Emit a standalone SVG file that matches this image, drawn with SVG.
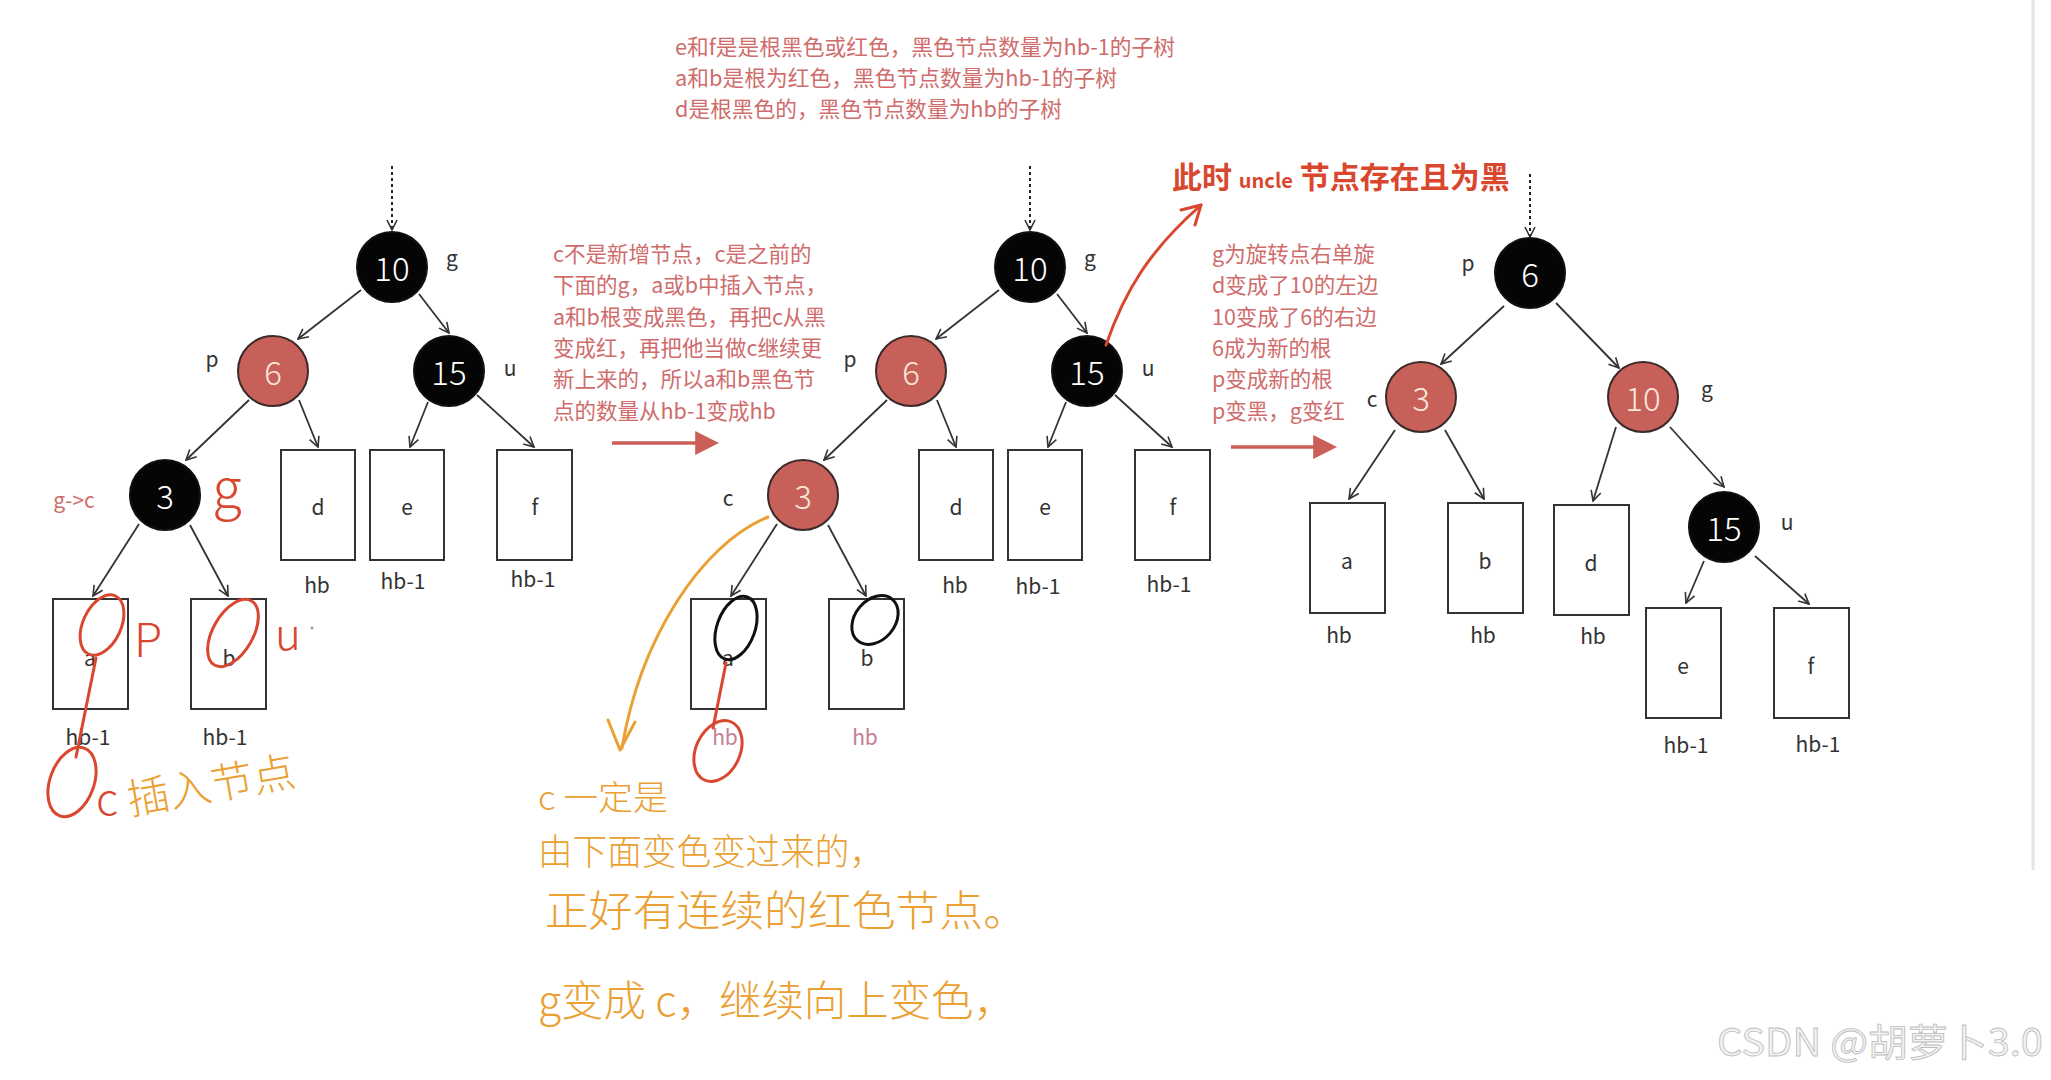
<svg xmlns="http://www.w3.org/2000/svg" width="2051" height="1080" viewBox="0 0 2051 1080">
<defs>
<style>
text{font-family:"Noto Sans CJK SC","Noto Sans",sans-serif;}
.bn{fill:#050505;stroke:#111;stroke-width:2}
.rn{fill:#c8605a;stroke:#3a2a2a;stroke-width:2}
.bt{fill:#fff;font-size:33px;font-weight:300;text-anchor:middle;dominant-baseline:central}
.rt{fill:#f8e6d8;font-size:33px;font-weight:300;text-anchor:middle;dominant-baseline:central}
.lb{fill:#333;font-size:21px;text-anchor:middle;dominant-baseline:central}
.box{fill:#fff;stroke:#333;stroke-width:2}
.e{stroke:#333;stroke-width:1.8;fill:none;marker-end:url(#ah)}
.d{stroke:#222;stroke-width:2;fill:none;stroke-dasharray:3 3;marker-end:url(#ah)}
.pk{fill:#cf6c6c;font-size:21.5px}
.ra{stroke:#cc5e58;stroke-width:3.5;fill:none;marker-end:url(#rah)}
.hr{stroke:#d9472f;stroke-width:3;fill:none;stroke-linecap:round;stroke-linejoin:round}
.hk{stroke:#111;stroke-width:3;fill:none;stroke-linecap:round}
.ho{stroke:#eaa032;stroke-width:3;fill:none;stroke-linecap:round;stroke-linejoin:round}
.ot{fill:#eaa032}
.rtx{fill:#d9472f}
.thin{font-weight:300}
</style>
<marker id="ah" viewBox="0 0 12 12" refX="11" refY="6" markerWidth="12" markerHeight="12" markerUnits="userSpaceOnUse" orient="auto"><path d="M1,1 L11,6 L1,11" fill="none" stroke="#333" stroke-width="1.6"/></marker>
<marker id="rah" viewBox="0 0 10 10" refX="2" refY="5" markerWidth="24" markerHeight="24" markerUnits="userSpaceOnUse" orient="auto"><path d="M0,0 L10,5 L0,10 z" fill="#cc5e58"/></marker>
</defs>
<rect width="2051" height="1080" fill="#fff"/>
<line x1="2033" y1="0" x2="2033" y2="870" stroke="#e4e4e4" stroke-width="3"/>

<g id="top-note">
<text class="pk" x="675" y="55" font-size="22" textLength="500" lengthAdjust="spacingAndGlyphs">e和f是是根黑色或红色，黑色节点数量为hb-1的子树</text>
<text class="pk" x="675" y="86" font-size="22" textLength="442" lengthAdjust="spacingAndGlyphs">a和b是根为红色，黑色节点数量为hb-1的子树</text>
<text class="pk" x="675" y="117" font-size="22" textLength="387" lengthAdjust="spacingAndGlyphs">d是根黑色的，黑色节点数量为hb的子树</text>
</g>

<g id="connectors">
<line class="d" x1="392" y1="166" x2="392" y2="230"/>
<line class="e" x1="361" y1="290" x2="298" y2="339"/>
<line class="e" x1="419" y1="294" x2="449" y2="333"/>
<line class="e" x1="249" y1="400" x2="186" y2="460"/>
<line class="e" x1="299" y1="400" x2="318" y2="447"/>
<line class="e" x1="428" y1="402" x2="410" y2="447"/>
<line class="e" x1="477" y1="395" x2="534" y2="447"/>
<line class="e" x1="139" y1="524" x2="93" y2="596"/>
<line class="e" x1="190" y1="525" x2="228" y2="596"/>

<line class="d" x1="1030" y1="166" x2="1030" y2="230"/>
<line class="e" x1="999" y1="290" x2="936" y2="339"/>
<line class="e" x1="1057" y1="294" x2="1087" y2="333"/>
<line class="e" x1="887" y1="400" x2="824" y2="460"/>
<line class="e" x1="937" y1="400" x2="956" y2="447"/>
<line class="e" x1="1066" y1="402" x2="1048" y2="447"/>
<line class="e" x1="1115" y1="395" x2="1172" y2="447"/>
<line class="e" x1="777" y1="524" x2="731" y2="596"/>
<line class="e" x1="828" y1="525" x2="866" y2="596"/>

<line class="d" x1="1530" y1="174" x2="1530" y2="237"/>
<line class="e" x1="1504" y1="306" x2="1441" y2="364"/>
<line class="e" x1="1556" y1="303" x2="1619" y2="368"/>
<line class="e" x1="1395" y1="430" x2="1349" y2="499"/>
<line class="e" x1="1445" y1="430" x2="1484" y2="499"/>
<line class="e" x1="1616" y1="427" x2="1593" y2="501"/>
<line class="e" x1="1670" y1="427" x2="1724" y2="487"/>
<line class="e" x1="1704" y1="561" x2="1686" y2="603"/>
<line class="e" x1="1755" y1="556" x2="1809" y2="604"/>

<line class="ra" x1="612" y1="443" x2="700" y2="443"/>
<line class="ra" x1="1231" y1="447" x2="1318" y2="447"/>
</g>

<!-- Tree 1 -->
<g id="t1-n10"><circle class="bn" cx="392" cy="267" r="35"/><text class="bt" x="392" y="267">10</text><text class="lb" x="452" y="257">g</text></g>
<g id="t1-n6"><circle class="rn" cx="273" cy="371" r="35"/><text class="rt" x="273" y="371">6</text><text class="lb" x="212" y="358">p</text></g>
<g id="t1-n15"><circle class="bn" cx="449" cy="371" r="35"/><text class="bt" x="449" y="371">15</text><text class="lb" x="510" y="367">u</text></g>
<g id="t1-n3"><circle class="bn" cx="165" cy="495" r="35"/><text class="bt" x="165" y="495">3</text><text class="lb" x="74" y="499" style="fill:#cf6c6c" font-size="19">g-&gt;c</text></g>
<g id="t1-d"><rect class="box" x="281" y="450" width="74" height="110"/><text class="lb" x="318" y="506">d</text><text class="lb" x="317" y="584">hb</text></g>
<g id="t1-e"><rect class="box" x="370" y="450" width="74" height="110"/><text class="lb" x="407" y="506">e</text><text class="lb" x="403" y="580">hb-1</text></g>
<g id="t1-f"><rect class="box" x="497" y="450" width="75" height="110"/><text class="lb" x="535" y="506">f</text><text class="lb" x="533" y="578">hb-1</text></g>
<g id="t1-a"><rect class="box" x="53" y="599" width="75" height="110"/><text class="lb" x="90" y="657">a</text><text class="lb" x="88" y="736">hb-1</text></g>
<g id="t1-b"><rect class="box" x="191" y="599" width="75" height="110"/><text class="lb" x="229" y="657">b</text><text class="lb" x="225" y="736">hb-1</text></g>

<g id="note-1">
<text class="pk" x="553" y="262">c不是新增节点，c是之前的</text>
<text class="pk" x="553" y="293">下面的g，a或b中插入节点，</text>
<text class="pk" x="553" y="325">a和b根变成黑色，再把c从黑</text>
<text class="pk" x="553" y="356">变成红，再把他当做c继续更</text>
<text class="pk" x="553" y="387">新上来的，所以a和b黑色节</text>
<text class="pk" x="553" y="419">点的数量从hb-1变成hb</text>
</g>

<!-- Tree 2 -->
<g id="t2-n10"><circle class="bn" cx="1030" cy="267" r="35"/><text class="bt" x="1030" y="267">10</text><text class="lb" x="1090" y="257">g</text></g>
<g id="t2-n6"><circle class="rn" cx="911" cy="371" r="35"/><text class="rt" x="911" y="371">6</text><text class="lb" x="850" y="358">p</text></g>
<g id="t2-n15"><circle class="bn" cx="1087" cy="371" r="35"/><text class="bt" x="1087" y="371">15</text><text class="lb" x="1148" y="367">u</text></g>
<g id="t2-n3"><circle class="rn" cx="803" cy="495" r="35"/><text class="rt" x="803" y="495">3</text><text class="lb" x="728" y="497">c</text></g>
<g id="t2-d"><rect class="box" x="919" y="450" width="74" height="110"/><text class="lb" x="956" y="506">d</text><text class="lb" x="955" y="584">hb</text></g>
<g id="t2-e"><rect class="box" x="1008" y="450" width="74" height="110"/><text class="lb" x="1045" y="506">e</text><text class="lb" x="1038" y="585">hb-1</text></g>
<g id="t2-f"><rect class="box" x="1135" y="450" width="75" height="110"/><text class="lb" x="1173" y="506">f</text><text class="lb" x="1169" y="583">hb-1</text></g>
<g id="t2-a"><rect class="box" x="691" y="599" width="75" height="110"/><text class="lb" x="728" y="657">a</text><text class="lb" x="725" y="736" style="fill:#c4808f">hb</text></g>
<g id="t2-b"><rect class="box" x="829" y="599" width="75" height="110"/><text class="lb" x="867" y="657">b</text><text class="lb" x="865" y="736" style="fill:#c4808f">hb</text></g>

<g id="note-2">
<text class="pk" x="1212" y="262">g为旋转点右单旋</text>
<text class="pk" x="1212" y="293">d变成了10的左边</text>
<text class="pk" x="1212" y="325">10变成了6的右边</text>
<text class="pk" x="1212" y="356">6成为新的根</text>
<text class="pk" x="1212" y="387">p变成新的根</text>
<text class="pk" x="1212" y="419">p变黑，g变红</text>
</g>

<!-- Tree 3 -->
<g id="t3-n6"><circle class="bn" cx="1530" cy="273" r="35"/><text class="bt" x="1530" y="273">6</text><text class="lb" x="1468" y="262">p</text></g>
<g id="t3-n3"><circle class="rn" cx="1421" cy="397" r="35"/><text class="rt" x="1421" y="397">3</text><text class="lb" x="1372" y="398">c</text></g>
<g id="t3-n10"><circle class="rn" cx="1643" cy="397" r="35"/><text class="rt" x="1643" y="397">10</text><text class="lb" x="1707" y="388">g</text></g>
<g id="t3-n15"><circle class="bn" cx="1724" cy="527" r="35"/><text class="bt" x="1724" y="527">15</text><text class="lb" x="1787" y="521">u</text></g>
<g id="t3-a"><rect class="box" x="1310" y="503" width="75" height="110"/><text class="lb" x="1347" y="560">a</text><text class="lb" x="1339" y="634">hb</text></g>
<g id="t3-b"><rect class="box" x="1448" y="503" width="75" height="110"/><text class="lb" x="1485" y="560">b</text><text class="lb" x="1483" y="634">hb</text></g>
<g id="t3-d"><rect class="box" x="1554" y="505" width="75" height="110"/><text class="lb" x="1591" y="562">d</text><text class="lb" x="1593" y="635">hb</text></g>
<g id="t3-e"><rect class="box" x="1646" y="608" width="75" height="110"/><text class="lb" x="1683" y="665">e</text><text class="lb" x="1686" y="744">hb-1</text></g>
<g id="t3-f"><rect class="box" x="1774" y="608" width="75" height="110"/><text class="lb" x="1811" y="665">f</text><text class="lb" x="1818" y="743">hb-1</text></g>

<!-- handwriting -->
<g id="hand-tree1">
<text class="rtx thin" x="227" y="508" font-size="54" text-anchor="middle">g</text>
<ellipse class="hr" cx="102" cy="625" rx="19" ry="32" transform="rotate(25 102 625)"/>
<text class="rtx thin" x="148" y="657" font-size="46" text-anchor="middle">P</text>
<ellipse class="hr" cx="233" cy="633" rx="20" ry="37" transform="rotate(30 233 633)"/>
<text class="rtx thin" x="288" y="650" font-size="44" text-anchor="middle">u</text>
<circle cx="312" cy="628" r="1.5" fill="#999"/>
<path class="hr" d="M96,658 L76,757"/>
<ellipse class="hr" cx="72" cy="782" rx="22" ry="36" transform="rotate(20 72 782)"/>
<text class="rtx thin" x="107" y="815" font-size="44" text-anchor="middle">c</text>
<text class="ot thin" x="130" y="815" font-size="42" transform="rotate(-10 130 815)" textLength="170" lengthAdjust="spacingAndGlyphs">插入节点</text>
</g>

<g id="hand-tree2">
<ellipse class="hk" cx="736" cy="628" rx="19" ry="33" transform="rotate(20 736 628)"/>
<ellipse class="hk" cx="875" cy="620" rx="20" ry="27" transform="rotate(40 875 620)"/>
<path class="hr" d="M726,663 L713,728"/>
<ellipse class="hr" cx="718" cy="751" rx="22" ry="32" transform="rotate(25 718 751)"/>
<path class="ho" d="M768,517 C700,545 640,640 622,748"/>
<path class="ho" d="M608,720 L620,750 L635,722"/>
<path class="hr" d="M1106,345 C1125,290 1150,250 1201,205"/>
<path class="hr" d="M1181,210 L1201,205 L1195,225"/>
</g>

<g id="hand-title">
<text class="rtx" x="1172" y="188" font-size="30" font-weight="bold">此时 <tspan font-size="20">uncle</tspan> 节点存在且为黑</text>
</g>

<g id="hand-note">
<text class="ot thin" x="538" y="810" font-size="34" textLength="130" lengthAdjust="spacingAndGlyphs">c 一定是</text>
<text class="ot thin" x="538" y="865" font-size="36" textLength="346" lengthAdjust="spacingAndGlyphs">由下面变色变过来的，</text>
<text class="ot thin" x="545" y="926" font-size="42" textLength="482" lengthAdjust="spacingAndGlyphs">正好有连续的红色节点。</text>
<text class="ot thin" x="538" y="1016" font-size="42" textLength="478" lengthAdjust="spacingAndGlyphs">g变成 c，继续向上变色，</text>
</g>

<g id="watermark">
<text x="1717" y="1056" font-size="38" font-family="Liberation Sans, Noto Sans CJK SC, sans-serif" fill="#f2f2f2" stroke="#bdbdbd" stroke-width="0.8" textLength="326" lengthAdjust="spacingAndGlyphs">CSDN @胡萝卜3.0</text>
</g>
</svg>
